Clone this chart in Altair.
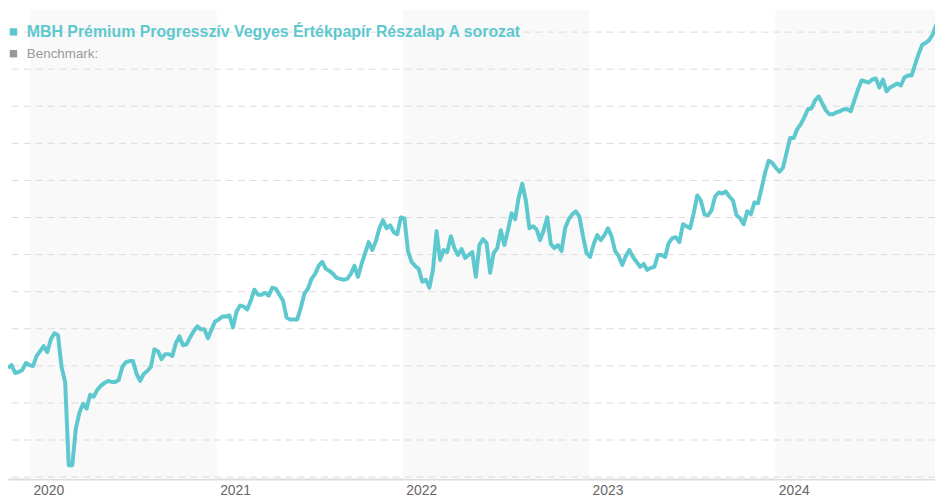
import altair as alt
import pandas as pd

# Fund price index (arbitrary units), weekly from 2019-11-19
fund_values = [
    110, 113, 105, 106, 108, 115, 113, 112, 122, 127,
    132, 126, 139, 145, 143, 111, 96, 12, 12, 49,
    65, 74, 69, 83, 81, 88, 92, 95, 97, 96,
    96, 98, 111, 116, 117, 117, 104, 97, 104, 107,
    111, 129, 127, 119, 124, 124, 122, 135, 142, 133,
    134, 141, 147, 152, 149, 149, 140, 149, 157, 159,
    162, 162, 163, 151, 167, 173, 172, 169, 178, 189,
    184, 184, 186, 183, 191, 190, 184, 178, 161, 159,
    159, 159, 171, 185, 190, 200, 205, 213, 217, 210,
    208, 205, 201, 200, 199, 200, 205, 213, 202, 215,
    226, 237, 229, 238, 251, 259, 251, 254, 247, 245,
    262, 261, 228, 217, 213, 210, 197, 199, 191, 209,
    248, 219, 229, 227, 243, 231, 224, 230, 221, 224,
    227, 202, 234, 240, 236, 206, 226, 231, 249, 234,
    249, 266, 260, 282, 296, 279, 251, 253, 250, 239,
    249, 262, 235, 231, 234, 228, 251, 260, 265, 268,
    263, 243, 226, 222, 235, 244, 239, 244, 251, 243,
    228, 223, 214, 223, 229, 222, 217, 212, 215, 209,
    211, 212, 224, 224, 222, 236, 241, 242, 237, 255,
    253, 251, 266, 284, 279, 265, 264, 269, 283, 287,
    286, 288, 283, 279, 264, 261, 255, 268, 265, 277,
    276, 291, 307, 319, 317, 312, 308, 312, 327, 342,
    342, 351, 356, 363, 371, 372, 380, 384, 377, 370,
    366, 366, 368, 369, 371, 371, 369, 380, 391, 400,
    399, 398, 401, 402, 393, 401, 389, 393, 395, 397,
    395, 403, 405, 405, 416, 427, 436, 438, 441, 447,
    457,
]
start_date = "2019-11-19"

fund_name = "MBH Prémium Progresszív Vegyes Értékpapír Részalap A sorozat"
benchmark_name = "Benchmark:"

band_starts = ["2020-01-01", "2022-01-01", "2024-01-01"]
band_ends = ["2021-01-01", "2023-01-01", "2025-01-01"]

year_ticks = [2020, 2021, 2022, 2023, 2024]
grid_values = [0, 37.4, 74.8, 112.2, 149.6, 187, 224.4, 261.8, 299.2, 336.6, 374, 411.4, 448.8]

TEAL = "#5ec8cf"
GRAY = "#999999"

df = pd.DataFrame({
    "date": pd.date_range(start_date, periods=len(fund_values), freq="7D"),
    "value": fund_values,
})
bands = pd.DataFrame({"start": pd.to_datetime(band_starts), "end": pd.to_datetime(band_ends)})
grid_df = pd.DataFrame({"g": grid_values})

x_scale = alt.Scale(domain=[alt.DateTime(year=2019, month=11, date=19),
                            alt.DateTime(year=2024, month=11, date=9)])
y_scale = alt.Scale(domain=[-2, 471], nice=False, zero=False)

x_axis = alt.Axis(
    values=[alt.DateTime(year=y, month=1, date=1) for y in year_ticks],
    format="%Y", title=None, grid=False, ticks=False,
    labelAlign="left", labelOffset=3, labelPadding=5,
    labelColor="#666666", labelFontSize=14, labelFont="Liberation Sans",
    domainColor="#dddddd", domainWidth=2,
)

band_layer = alt.Chart(bands).mark_rect(color="#f9f9f9", clip=True).encode(
    x=alt.X("start:T", scale=x_scale, axis=x_axis),
    x2="end:T",
)

grid_layer = alt.Chart(grid_df).mark_rule(
    color="#dcdcdc", strokeDash=[7, 5], strokeWidth=1).encode(
    y=alt.Y("g:Q", scale=y_scale, axis=None),
)

line_layer = alt.Chart(df).mark_line(color=TEAL, strokeWidth=4, clip=True,
                                     strokeJoin="round").encode(
    x=alt.X("date:T", scale=x_scale, axis=x_axis),
    y=alt.Y("value:Q", scale=y_scale, axis=None),
)

legend_df1 = pd.DataFrame({"label": [fund_name]})
legend_df2 = pd.DataFrame({"label": [benchmark_name]})

leg_sym1 = alt.Chart(legend_df1).mark_square(size=56, color=TEAL, opacity=1).encode(
    x=alt.value(5.5), y=alt.value(22))
leg_txt1 = alt.Chart(legend_df1).mark_text(
    align="left", baseline="middle", font="Liberation Sans", fontSize=16,
    fontWeight="bold", color=TEAL).encode(
    x=alt.value(19), y=alt.value(22), text="label:N")
leg_sym2 = alt.Chart(legend_df2).mark_square(size=56, color=GRAY, opacity=1).encode(
    x=alt.value(5.5), y=alt.value(44))
leg_txt2 = alt.Chart(legend_df2).mark_text(
    align="left", baseline="middle", font="Liberation Sans", fontSize=13.5,
    color=GRAY).encode(
    x=alt.value(19), y=alt.value(44), text="label:N")

chart = alt.layer(
    band_layer, grid_layer, line_layer, leg_sym1, leg_txt1, leg_sym2, leg_txt2
).properties(
    width=935, height=473,
    autosize=alt.AutoSizeParams(type="none"),
    padding={"left": 0, "top": 0, "right": 0, "bottom": 20},
    background="white",
).configure_view(stroke=None)

chart.save("out.html", embed_options={"renderer": "svg", "actions": False})
